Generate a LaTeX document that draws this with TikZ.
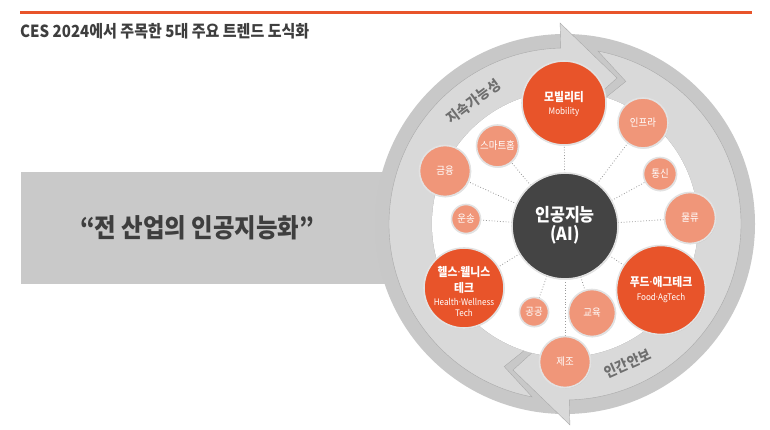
\documentclass[tikz,border=0pt]{standalone}
\usepackage{fontspec}
\setmainfont{Noto Sans CJK KR}[FakeStretch=0.9]
\newfontfamily\latinf{Noto Sans}[FakeStretch=0.9]
\usetikzlibrary{shadows}
\pgfdeclarelayer{back}
\pgfdeclarelayer{mid}
\pgfsetlayers{back,mid,main}
\definecolor{orng}{HTML}{E8542A}
\definecolor{salm}{HTML}{F09679}
\definecolor{aidark}{HTML}{444444}
\definecolor{ringdark}{HTML}{C8C8C8}
\definecolor{ringlight}{HTML}{D9D9D9}
\definecolor{rectgray}{HTML}{C9C9C9}
\definecolor{titlegray}{HTML}{3E3E3E}
\definecolor{ringtxt}{HTML}{6E6E6E}
\definecolor{bubedge}{HTML}{E2E2E2}
\definecolor{connc}{HTML}{9A9A9A}
\newcommand\mdot{{\latinf ·}}
\begin{document}
\begin{tikzpicture}[x=1pt,y=1pt,
  bub/.style={circle, inner sep=0pt, draw=bubedge, line width=1.6pt,
    drop shadow={shadow xshift=0.6pt, shadow yshift=-0.8pt, opacity=0.25}},
  bigbub/.style={bub, fill=orng},
  smallbub/.style={bub, fill=salm, text=white, font=\fontsize{10.5}{12}\selectfont},
  aibub/.style={bub, fill=aidark},
  bigtxt/.style={text=white, inner sep=0pt, font=\bfseries\fontsize{12}{14}\selectfont},
  subtxt/.style={text=white, inner sep=0pt, font=\fontsize{9}{10}\selectfont},
  aitxt/.style={text=white, inner sep=0pt, font=\bfseries\fontsize{18}{20}\selectfont},
  conn/.style={connc, dotted, line width=0.8pt},
  ringtext/.style={text=ringtxt, inner sep=0pt, font=\bfseries\fontsize{14.5}{16}\selectfont\addfontfeature{LetterSpace=5}},
  arrowbody/.style={fill=ringlight, draw=ringdark!85!black, line width=0.4pt},
]
\useasboundingbox (0,0) rectangle (770,-430);

\begin{pgfonlayer}{back}
\fill[white] (0,0) rectangle (770,-430);
% header
\draw[orng, line width=3pt] (20,-13) -- (752,-13);
\node[anchor=west, inner sep=0pt, text=titlegray, font=\bfseries\fontsize{16.7}{18}\selectfont] (title) at (20,-31) {CES 2024에서 주목한 5대 주요 트렌드 도식화};
% slogan band
\fill[rectgray] (21,-172) rectangle (420,-284);
\node[inner sep=0pt, text=titlegray, font=\bfseries\fontsize{26}{30}\selectfont] (slogan) at (197,-228) {“전 산업의 인공지능화”};
% ring
\begin{scope}[shift={(565,-224)}]
  \fill[ringdark] (0,0) circle (190);
  \path[arrowbody] (91.4:201) -- (70.4:155) -- (75.6:133)
    arc[start angle=75.6, end angle=252.1, radius=133] -- (246.9:155) -- (259.2:176)
    arc[start angle=259.2, end angle=91.4, radius=176] -- cycle;
  \path[arrowbody, rotate=180] (91.4:201) -- (70.4:155) -- (75.6:133)
    arc[start angle=75.6, end angle=252.1, radius=133] -- (246.9:155) -- (259.2:176)
    arc[start angle=259.2, end angle=91.4, radius=176] -- cycle;
  \fill[white] (0,0) circle (133);
  \node[ringtext, rotate=36.8] (sust) at (126.8:153) {지속가능성};
  \node[ringtext, rotate=24.2] (human) at (-65.8:153) {인간안보};
\end{scope}
\end{pgfonlayer}

% bubbles
\node[aibub, minimum size=106pt] (ai) at (565,-226) {};
\node[aitxt] (aiT) at (565,-215) {인공지능};
\node[aitxt] (aiS) at (565,-235) {(AI)};

\node[bigbub, minimum size=84pt] (mob) at (564,-103) {};
\node[bigtxt] (mobT) at (564,-97) {모빌리티};
\node[subtxt] (mobS) at (564,-112) {Mobility};

\node[smallbub, minimum size=50pt] (infra) at (643,-123) {인프라};
\node[smallbub, minimum size=33pt] (tong) at (660,-174) {통신};
\node[smallbub, minimum size=51pt] (mul) at (690,-218) {물류};

\node[bigbub, minimum size=89pt] (food) at (661,-290) {};
\node[bigtxt] (foodT) at (661,-282) {푸드\mdot 애그테크};
\node[subtxt] (foodS) at (661,-298) {Food\mdot AgTech};

\node[smallbub, minimum size=47pt] (edu) at (592,-313) {교육};
\node[smallbub, minimum size=51pt] (jejo) at (565,-362) {제조};
\node[smallbub, minimum size=29pt] (gong) at (534,-312) {공공};

\node[bigbub, minimum size=80pt] (health) at (464,-288) {};
\node[bigtxt] (healthT1) at (464,-272) {헬스\mdot 웰니스};
\node[bigtxt] (healthT2) at (464,-288) {테크};
\node[subtxt] (healthS1) at (464,-302) {Health\mdot Wellness};
\node[subtxt] (healthS2) at (464,-313) {Tech};

\node[smallbub, minimum size=29pt] (unsong) at (466,-219) {운송};
\node[smallbub, minimum size=51pt] (geum) at (445,-171) {금융};
\node[smallbub, minimum size=42pt] (smart) at (497.5,-146) {스마트홈};

% connectors
\begin{pgfonlayer}{mid}
\foreach \t in {mob,infra,tong,mul,food,edu,jejo,gong,health,unsong,geum,smart}
  \draw[conn] (ai.center) -- (\t.center);
\end{pgfonlayer}
\end{tikzpicture}
\end{document}
